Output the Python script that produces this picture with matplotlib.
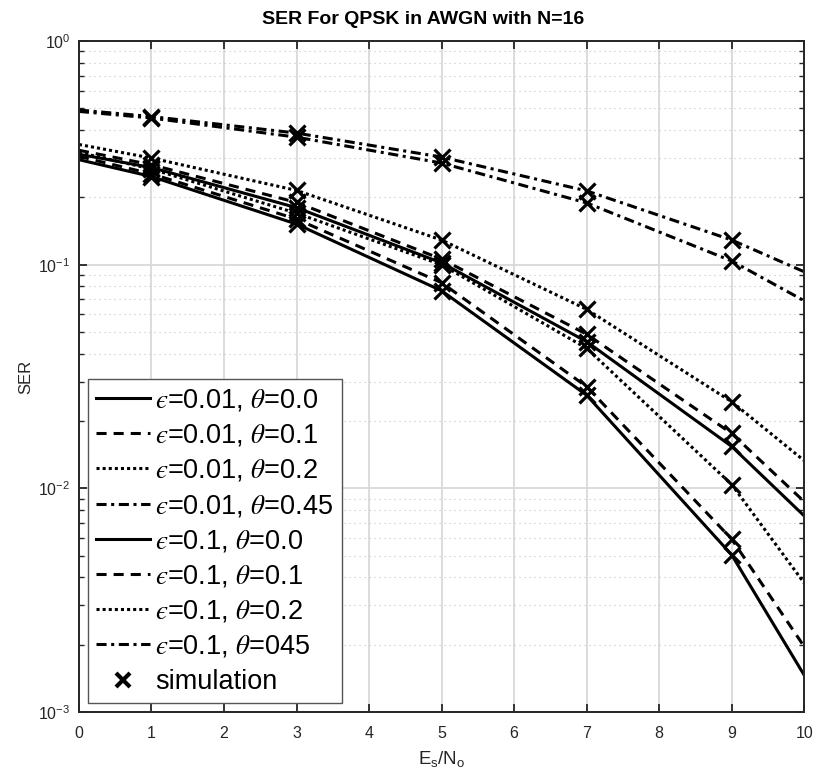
import numpy as np
import matplotlib
matplotlib.use('Agg')
import matplotlib.pyplot as plt
from matplotlib.lines import Line2D

plt.rcParams['font.family'] = ['Liberation Sans', 'DejaVu Sans']
plt.rcParams['mathtext.fontset'] = 'custom'
plt.rcParams['mathtext.rm'] = 'Liberation Sans'
plt.rcParams['mathtext.sf'] = 'Liberation Sans'
plt.rcParams['mathtext.it'] = 'STIXGeneral:italic'
plt.rcParams['mathtext.fallback'] = 'stix'

# SNR points of the theory curves and of the simulation markers
snr_theory = [0, 1, 3, 5, 7, 9, 10]
snr_sim = [1, 3, 5, 7, 9]

# theory curves
ser_e001_t00 = [0.295, 0.248, 0.152, 0.0765, 0.0261, 0.00504, 0.00146]
ser_e001_t01 = [0.305, 0.255, 0.160, 0.0831, 0.0285, 0.00593, 0.00196]
ser_e001_t02 = [0.318, 0.268, 0.170, 0.100, 0.0423, 0.0104, 0.00377]
ser_e001_t045 = [0.485, 0.453, 0.372, 0.285, 0.189, 0.104, 0.069]
ser_e01_t00 = [0.312, 0.272, 0.180, 0.102, 0.0453, 0.0154, 0.00753]
ser_e01_t01 = [0.325, 0.280, 0.190, 0.106, 0.0489, 0.0176, 0.00872]
ser_e01_t02 = [0.345, 0.300, 0.215, 0.129, 0.0632, 0.0244, 0.0133]
ser_e01_t045 = [0.492, 0.460, 0.388, 0.303, 0.214, 0.129, 0.093]

# simulation markers
sim_e001_t00 = [0.248, 0.152, 0.0765, 0.0261, 0.00504]
sim_e001_t01 = [0.255, 0.160, 0.0831, 0.0285, 0.00593]
sim_e001_t02 = [0.268, 0.170, 0.100, 0.0423, 0.0104]
sim_e001_t045 = [0.453, 0.372, 0.285, 0.189, 0.104]
sim_e01_t00 = [0.272, 0.180, 0.102, 0.0453, 0.0154]
sim_e01_t01 = [0.280, 0.190, 0.106, 0.0489, 0.0176]
sim_e01_t02 = [0.300, 0.215, 0.129, 0.0632, 0.0244]
sim_e01_t045 = [0.460, 0.388, 0.303, 0.214, 0.129]

labels = ['$\u03f5$=0.01, $\\theta$=0.0', '$\u03f5$=0.01, $\\theta$=0.1',
          '$\u03f5$=0.01, $\\theta$=0.2', '$\u03f5$=0.01, $\\theta$=0.45',
          '$\u03f5$=0.1, $\\theta$=0.0', '$\u03f5$=0.1, $\\theta$=0.1',
          '$\u03f5$=0.1, $\\theta$=0.2', '$\u03f5$=0.1, $\\theta$=045']

solid = '-'
dashed = (0, (3.3, 2.3))
dotted = (0, (1, 1))
dashdot = (0, (3.3, 1.5, 1, 1.5))

theory = [ser_e001_t00, ser_e001_t01, ser_e001_t02, ser_e001_t045,
          ser_e01_t00, ser_e01_t01, ser_e01_t02, ser_e01_t045]
sims = [sim_e001_t00, sim_e001_t01, sim_e001_t02, sim_e001_t045,
        sim_e01_t00, sim_e01_t01, sim_e01_t02, sim_e01_t045]
styles = [solid, dashed, dotted, dashdot, solid, dashed, dotted, dashdot]

fig = plt.figure(figsize=(8.14, 7.76), dpi=100)
ax = fig.add_axes([0.097, 0.0825, 0.891, 0.8645])

lw = 2.2
for y, ls, lab in zip(theory, styles, labels):
    ax.semilogy(snr_theory, y, color='black', linestyle=ls, linewidth=lw, label=lab)
for y in sims:
    ax.semilogy(snr_sim, y, 'x', color='black', markersize=11, markeredgewidth=2.3)

ax.set_xlim(0, 10)
ax.set_ylim(1e-3, 1)
ax.set_xticks(np.arange(0, 11, 1))

ax.grid(True, which='major', color='#d9d9d9', linewidth=1.3, linestyle='-')
ax.grid(True, which='minor', axis='y', color='#c4c4c4', linewidth=0.8, linestyle=(0, (1, 3.5)))
ax.set_axisbelow(True)

for s in ax.spines.values():
    s.set_color('#262626')
    s.set_linewidth(1.4)
ax.tick_params(which='both', direction='in', top=True, right=True, colors='#262626',
               labelsize=11.5, labelcolor='#262626')
ax.tick_params(which='major', length=6, width=1.3)
ax.tick_params(which='minor', length=3.5, width=1.0)
ax.tick_params(axis='x', pad=10)
ax.tick_params(axis='y', pad=6)

ax.set_title('SER For QPSK in AWGN with N=16', fontsize=14, fontweight='bold',
             pad=12, x=0.4745)
ax.set_ylabel('SER', fontsize=12, color='#262626', labelpad=4)
ax.set_xlabel(r'$\mathrm{E_s/N_o}$', fontsize=13.5, color='#262626', labelpad=6)

handles, labs = ax.get_legend_handles_labels()
handles.append(Line2D([], [], linestyle='none', marker='x', color='black',
                      markersize=10, markeredgewidth=3))
labs.append('simulation')
leg = ax.legend(handles, labs, loc='lower left', bbox_to_anchor=(0.012, 0.013),
                borderaxespad=0, fontsize=19.5, fancybox=False, framealpha=1,
                edgecolor='#555555', handlelength=2.0, handletextpad=0.2,
                labelspacing=0.34, borderpad=0.3)
leg.get_frame().set_linewidth(1.0)

fig.savefig('out.png', dpi=100)
